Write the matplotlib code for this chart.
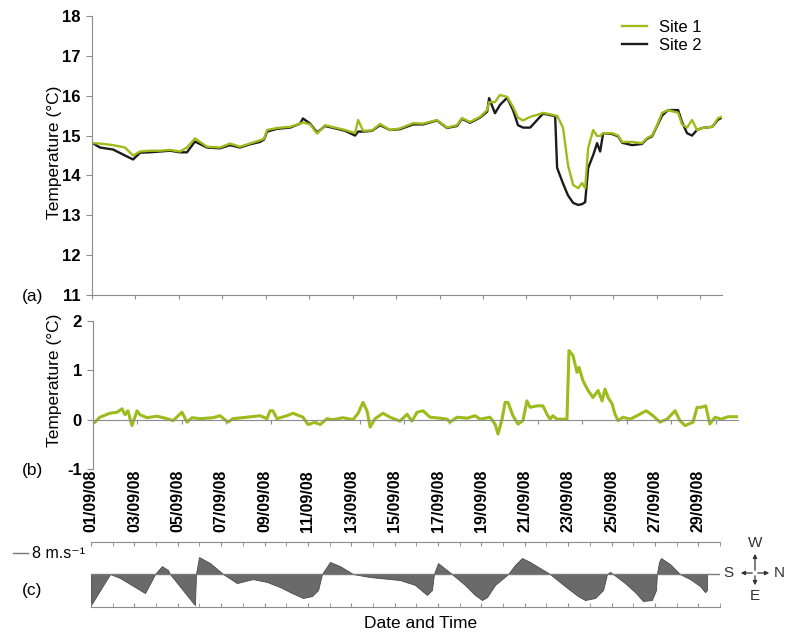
import numpy as np
import matplotlib
matplotlib.use("Agg")
import matplotlib.pyplot as plt
from matplotlib.lines import Line2D
from matplotlib.patches import FancyArrowPatch
from matplotlib.ticker import MultipleLocator

plt.rcParams['font.family'] = ['Liberation Sans', 'DejaVu Sans']
plt.rcParams['axes.unicode_minus'] = False

# (a) water temperature, days since 01/09/08 00:00
days_a = [0.09, 0.37, 0.97, 1.52, 1.89, 2.21, 2.67, 3.13, 3.59, 4.05, 4.37, 4.74,
          5.29, 5.89, 6.35, 6.81, 7.27, 7.73, 7.92, 8.06, 8.52, 9.12, 9.58, 9.71,
          10.04, 10.36, 10.73, 11.19, 11.65, 12.11, 12.25, 12.48, 12.89, 13.26, 13.72, 14.18,
          14.78, 15.24, 15.88, 16.34, 16.80, 17.03, 17.40, 17.86, 18.19, 18.28, 18.55, 18.78,
          19.11, 19.38, 19.61, 19.84, 20.17, 20.49, 20.76, 21.22, 21.32, 21.41, 21.68, 21.91,
          22.15, 22.38, 22.56, 22.70, 22.84, 23.07, 23.25, 23.39, 23.53, 23.94, 24.22, 24.40,
          24.86, 25.32, 25.55, 25.78, 26.01, 26.24, 26.52, 26.98, 27.16, 27.39, 27.62, 27.85,
          28.08, 28.55, 28.82, 29.00]
site1 = [14.81, 14.80, 14.76, 14.70, 14.50, 14.60, 14.62, 14.62, 14.64, 14.60, 14.70, 14.93,
         14.72, 14.70, 14.80, 14.72, 14.80, 14.88, 14.92, 15.14, 15.19, 15.22, 15.30, 15.33,
         15.28, 15.05, 15.26, 15.20, 15.14, 15.06, 15.39, 15.12, 15.13, 15.29, 15.14, 15.18,
         15.31, 15.30, 15.39, 15.20, 15.26, 15.44, 15.34, 15.47, 15.64, 15.84, 15.84, 16.02,
         15.97, 15.72, 15.45, 15.38, 15.47, 15.52, 15.57, 15.52, 15.50, 15.50, 15.20, 14.26,
         13.76, 13.68, 13.81, 13.68, 14.69, 15.14, 14.99, 14.99, 15.06, 15.06, 15.00, 14.84,
         14.84, 14.81, 14.94, 15.00, 15.26, 15.57, 15.64, 15.57, 15.28, 15.20, 15.39, 15.14,
         15.19, 15.22, 15.44, 15.47]
site2 = [14.79, 14.70, 14.65, 14.50, 14.40, 14.57, 14.58, 14.60, 14.62, 14.58, 14.58, 14.85,
         14.70, 14.68, 14.76, 14.70, 14.78, 14.84, 14.90, 15.10, 15.17, 15.20, 15.30, 15.43,
         15.30, 15.08, 15.24, 15.18, 15.12, 15.00, 15.10, 15.10, 15.12, 15.26, 15.14, 15.16,
         15.28, 15.28, 15.38, 15.19, 15.24, 15.42, 15.32, 15.45, 15.60, 15.94, 15.56, 15.77,
         15.95, 15.64, 15.26, 15.20, 15.20, 15.39, 15.55, 15.50, 15.48, 14.19, 13.80, 13.50,
         13.31, 13.26, 13.28, 13.33, 14.19, 14.51, 14.81, 14.60, 15.06, 15.04, 14.98, 14.82,
         14.76, 14.79, 14.92, 14.98, 15.24, 15.50, 15.64, 15.64, 15.34, 15.06, 15.00, 15.14,
         15.19, 15.22, 15.40, 15.45]

# (b) temperature difference between the sites
days_b = [0.09, 0.31, 0.76, 1.08, 1.30, 1.44, 1.57, 1.75, 1.98, 2.11, 2.43, 2.88,
          3.33, 3.60, 4.00, 4.23, 4.45, 4.81, 5.40, 5.71, 6.07, 6.29, 6.92, 7.51,
          7.82, 7.96, 8.09, 8.27, 8.72, 8.99, 9.44, 9.67, 9.98, 10.21, 10.52, 10.79,
          11.24, 11.69, 11.92, 12.14, 12.32, 12.46, 12.68, 13.04, 13.35, 13.80, 14.12, 14.34,
          14.57, 14.84, 15.15, 15.60, 15.92, 16.05, 16.37, 16.82, 17.18, 17.40, 17.85, 18.08,
          18.21, 18.39, 18.53, 18.66, 18.88, 19.11, 19.33, 19.51, 19.65, 19.96, 20.23, 20.41,
          20.55, 20.68, 20.86, 21.31, 21.40, 21.58, 21.76, 21.85, 22.03, 22.26, 22.48, 22.71,
          22.89, 23.02, 23.16, 23.34, 23.47, 23.61, 23.83, 24.15, 24.46, 24.87, 25.18, 25.49,
          25.81, 26.17, 26.39, 26.62, 26.98, 27.16, 27.34, 27.55, 27.73, 27.97, 28.24, 28.55,
          29.00]
temp_diff = [-0.05, 0.05, 0.13, 0.15, 0.22, 0.10, 0.18, -0.12, 0.18, 0.10, 0.04, 0.07,
             0.02, -0.02, 0.15, -0.05, 0.04, 0.02, 0.04, 0.08, -0.05, 0.02, 0.05, 0.08,
             0.02, 0.18, 0.18, 0.02, 0.08, 0.13, 0.05, -0.10, -0.05, -0.10, 0.02, 0.00,
             0.04, 0.00, 0.13, 0.35, 0.18, -0.15, 0.02, 0.13, 0.05, -0.03, 0.11, -0.03,
             0.15, 0.18, 0.05, 0.03, 0.01, -0.05, 0.05, 0.03, 0.08, 0.01, 0.05, -0.09,
             -0.29, 0.01, 0.35, 0.35, 0.08, -0.09, -0.02, 0.38, 0.25, 0.28, 0.28, 0.11,
             0.01, 0.08, 0.01, 0.01, 1.40, 1.30, 0.96, 1.06, 0.79, 0.59, 0.45, 0.59,
             0.38, 0.62, 0.45, 0.32, 0.11, -0.02, 0.05, 0.01, 0.08, 0.18, 0.08, -0.05,
             0.01, 0.18, -0.02, -0.12, -0.05, 0.25, 0.25, 0.28, -0.09, 0.05, 0.01, 0.06,
             0.06]

# (c) wind, W-E component (m/s, W positive)
days_c = [0.00, 0.88, 1.34, 1.80, 2.49, 2.81, 2.95, 3.27, 3.55, 3.64, 4.79, 4.84,
          4.98, 5.49, 6.09, 6.73, 7.10, 7.47, 8.11, 8.71, 9.27, 9.77, 10.19, 10.47,
          10.65, 11.02, 11.48, 12.08, 12.86, 14.25, 14.94, 15.49, 15.72, 15.81, 16.00, 16.64,
          17.24, 17.70, 18.03, 18.26, 18.63, 19.23, 19.55, 19.87, 20.24, 21.16, 21.85, 22.45,
          22.78, 23.24, 23.61, 23.79, 23.93, 24.07, 24.62, 25.08, 25.45, 25.86, 26.05, 26.09,
          26.19, 26.28, 26.69, 27.15, 27.62, 28.08, 28.31, 28.40]
wind = [-16.5, 0.0, -2.1, -5.3, -10.1, -3.2, 0.0, 4.2, 2.1, 0.0, -16.5, 0.0,
        9.0, 5.8, 0.0, -4.8, -3.7, -2.7, -4.2, -6.9, -10.1, -12.7, -11.7, -8.5,
        0.0, 6.4, 4.2, 0.0, -1.6, -3.2, -5.8, -11.1, -8.5, 0.0, 5.8, 0.0,
        -5.8, -11.1, -13.8, -12.2, -5.8, 0.0, 4.8, 8.5, 6.4, 0.0, -6.4, -11.7,
        -13.8, -12.7, -8.5, 0.0, 1.1, 0.0, -4.8, -9.6, -14.3, -13.8, -8.5, 0.0,
        6.4, 8.5, 5.3, 0.0, -2.7, -6.4, -9.6, -8.5]

date_labels = ['01/09/08', '03/09/08', '05/09/08', '07/09/08', '09/09/08',
               '11/09/08', '13/09/08', '15/09/08', '17/09/08', '19/09/08',
               '21/09/08', '23/09/08', '25/09/08', '27/09/08', '29/09/08']

GREEN = '#9cbc1c'
BLACK = '#1c1c1c'
AXIS = '#8c8c8c'

W, H = 786, 632
fig = plt.figure(figsize=(W / 100, H / 100), dpi=100)


def box(l, t, r, b):
    return [l / W, 1 - b / H, (r - l) / W, (b - t) / H]


def fx(px):
    return px / W


def fy(py):
    return 1 - py / H


ax_a = fig.add_axes(box(92, 16, 722, 295))
ax_b = fig.add_axes(box(93, 321, 738, 469))
ax_c = fig.add_axes(box(91, 542, 720, 607))

# --- (a) temperatures
l2, = ax_a.plot(days_a, site2, color=BLACK, lw=1.7)
l1, = ax_a.plot(days_a, site1, color=GREEN, lw=1.7)
ax_a.set_xlim(0, 29)
ax_a.set_ylim(11, 18)
ax_a.set_xticks(np.arange(0, 29, 2))
ax_a.set_yticks(range(11, 19))
ax_a.tick_params(axis='x', direction='out', length=3, color=AXIS, labelbottom=False)
ax_a.set_ylabel('Temperature (°C)', fontsize=12.5)
ax_a.yaxis.set_label_coords(-0.047, 0.51)
ax_a.legend([l1, l2], ['Site 1', 'Site 2'], loc='upper left', frameon=False,
            bbox_to_anchor=(fx(622), fy(20)), bbox_transform=fig.transFigure,
            fontsize=12, handlelength=1.5, handletextpad=0.7, labelspacing=0.15,
            borderpad=0, borderaxespad=0)

# --- (b) difference
ax_b.plot(days_b, temp_diff, color=GREEN, lw=2.2)
ax_b.set_xlim(0, 29)
ax_b.set_ylim(-1, 2)
ax_b.set_xticks(np.arange(0, 29, 2))
ax_b.set_yticks([-1, 0, 1, 2])
ax_b.spines['bottom'].set_position(('data', 0))
ax_b.tick_params(axis='x', direction='out', length=3, color=AXIS, labelbottom=False)
ax_b.set_ylabel('Temperature (°C)', fontsize=12.5)
ax_b.yaxis.set_label_coords(-0.048, 0.6)

for ax in (ax_a, ax_b):
    for side in ('top', 'right'):
        ax.spines[side].set_visible(False)
    for side in ('left', 'bottom'):
        ax.spines[side].set_color(AXIS)
    ax.tick_params(axis='y', direction='out', length=4, color=AXIS,
                   labelsize=12, pad=4)
    plt.setp(ax.get_yticklabels(), fontweight='bold')

# --- (c) wind
ax_c.fill_between(days_c, wind, 0, facecolor='#6a6a6a', edgecolor='#4a4a4a', lw=0.6)
ax_c.axhline(0, color='#7a7a7a', lw=1)
ax_c.set_xlim(0, 29)
ax_c.set_ylim(-17.5, 17)
ax_c.set_yticks([])
ax_c.set_xticks(np.arange(0, 29, 2))
ax_c.xaxis.set_minor_locator(MultipleLocator(1))
ax_c.set_xticklabels(date_labels, rotation=90, fontweight='bold', fontsize=11.5)
ax_c.tick_params(axis='x', which='both', direction='in', length=3, color=AXIS,
                 top=True, bottom=True, labeltop=True, labelbottom=False, pad=7)
for side in ('left', 'right'):
    ax_c.spines[side].set_visible(False)
for side in ('top', 'bottom'):
    ax_c.spines[side].set_color(AXIS)

# panel letters and axis title
for letter, py in (('(a)', 296), ('(b)', 470), ('(c)', 591)):
    fig.text(fx(22), fy(py), letter, fontsize=12.5, va='center')
fig.text(fx(421), fy(623), 'Date and Time', fontsize=12.5, ha='center', va='center')

# wind scale bar
fig.add_artist(Line2D([fx(13), fx(28)], [fy(553), fy(553)], color='#777777', lw=1))
fig.text(fx(32), fy(553), '8 m.s⁻¹', fontsize=11.5, va='center')

# compass
cx, cy = 755, 573
for ex, ey in ((772, 573), (738, 573), (755, 551), (755, 588)):
    fig.add_artist(FancyArrowPatch((fx(cx), fy(cy)), (fx(ex), fy(ey)),
                                   transform=fig.transFigure, arrowstyle='-|>',
                                   mutation_scale=6, color='#333333', lw=0.9))
for txt, tx, ty in (('W', 755, 543), ('E', 755, 596), ('S', 728, 573), ('N', 779, 573)):
    fig.text(fx(tx), fy(ty), txt, fontsize=11, ha='center', va='center', color='#333333')

fig.savefig('out.png', dpi=100, facecolor='white')
